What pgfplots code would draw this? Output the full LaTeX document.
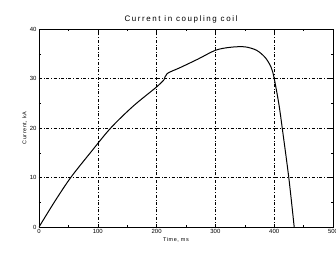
\documentclass[border=0pt]{standalone}
\usepackage{fontspec}
\setmainfont{Liberation Sans}
\usepackage{pgfplots}
\pgfplotsset{compat=1.18}
\begin{document}
\begin{tikzpicture}
\useasboundingbox (-39bp,-30bp) rectangle (297bp,227bp);
\begin{axis}[
  at={(0,0)}, anchor=south west,
  scale only axis,
  width=294bp, height=198bp,
  xmin=0, xmax=500, ymin=0, ymax=40,
  xtick={0,100,...,500}, ytick={0,10,...,40},
  minor x tick num=1, minor y tick num=1,
  tick align=inside,
  major tick length=3bp, minor tick length=2bp,
  grid=major,
  major grid style={black, thin, dash dot},
  axis line style={black, line width=0.9pt},
  tick style={black},
  tick label style={font=\fontsize{6}{7}\selectfont},
  /pgf/number format/assume math mode=true,
  xticklabel style={yshift=1bp},
  yticklabel style={xshift=1bp},
  title={\addfontfeature{LetterSpace=20}Current in coupling coil},
  title style={font=\fontsize{8}{9}\selectfont, yshift=-4bp, xshift=-5bp},
  xlabel={\addfontfeature{LetterSpace=10}Time, ms},
  xlabel style={font=\fontsize{5.5}{6}\selectfont, yshift=3bp, xshift=-10bp},
  ylabel={\addfontfeature{LetterSpace=10}Current, kA},
  ylabel style={font=\fontsize{5.5}{6}\selectfont, yshift=-4bp},
]
\addplot[black, line width=1pt, smooth] coordinates {
(0,0) (27,5.2) (54,10) (88,15.1) (122,20) (160,24.4) (200,28.3) (213,29.8)
};
\addplot[black, line width=1pt, smooth] coordinates {
(213,29.8) (218,31) (240,32.2) (270,33.9) (300,35.7) (325,36.3) (350,36.4)
(370,35.7) (385,34.2) (395,32.2) (400,30) (408,24.8) (414,19.7) (425,9.8) (434,0)
};
\addplot[black, line width=1pt] coordinates {(434,0) (500,0)};
\end{axis}
\end{tikzpicture}
\end{document}
